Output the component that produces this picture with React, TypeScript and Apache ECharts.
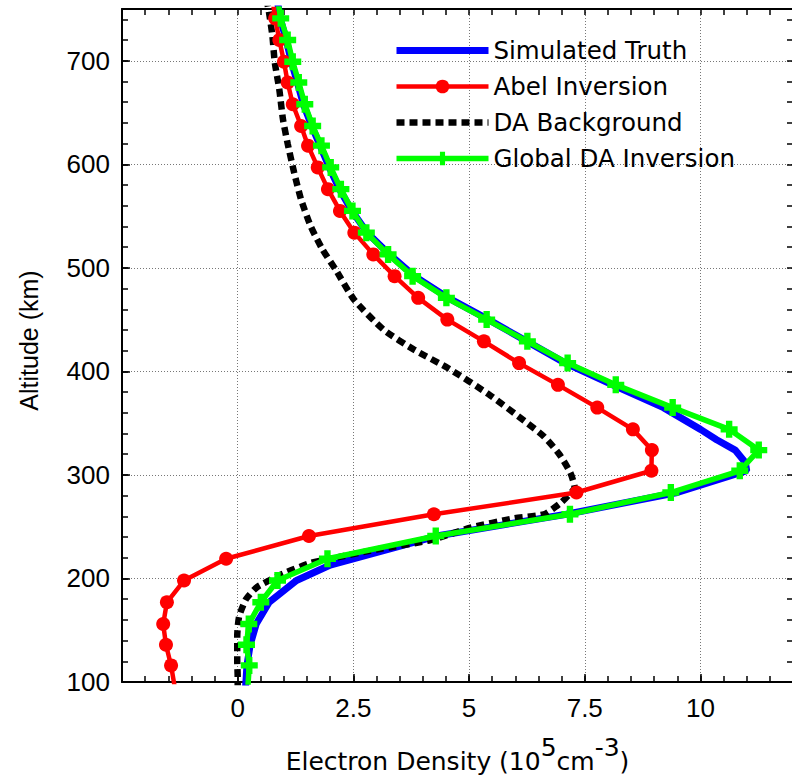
import React, { useEffect, useRef } from 'react';
import * as echarts from 'echarts';

// Altitudes (km) of the marked profile points
const markerAltitudes = [116, 136, 156, 177, 198, 219, 241, 262, 283, 304, 324, 344, 365, 387, 408, 429, 450, 471, 492, 513, 534, 555, 576, 597, 618, 637, 658, 679, 699, 720, 741];
// Abel inversion (10^5 cm^-3)
const abelDensity = [-1.44, -1.55, -1.61, -1.53, -1.16, -0.25, 1.54, 4.24, 7.32, 8.94, 8.95, 8.54, 7.77, 6.92, 6.08, 5.32, 4.53, 3.90, 3.39, 2.93, 2.52, 2.21, 1.95, 1.73, 1.52, 1.37, 1.19, 1.08, 1.0, 0.9, 0.81];
// continuation of the Abel profile beyond the frame [density, altitude]
const abelEdge = [[-1.36, 95], [0.75, 760]];
// Global DA inversion
const globalDensity = [0.25, 0.19, 0.24, 0.50, 0.86, 1.94, 4.28, 7.18, 9.36, 10.85, 11.26, 10.62, 9.40, 8.17, 7.13, 6.26, 5.38, 4.51, 3.78, 3.25, 2.78, 2.48, 2.23, 2.01, 1.81, 1.62, 1.45, 1.32, 1.19, 1.08, 0.93];
const globalEdge = [[0.22, 95], [0.86, 760]];
// Simulated truth
const truthAltitudes = [95, 116, 136, 156, 177, 198, 213, 241, 262, 283, 304, 312, 324, 334, 344, 365, 387, 408, 429, 450, 471, 492, 513, 534, 555, 576, 597, 618, 637, 658, 679, 699, 720, 741, 760];
const truthDensity = [0.17, 0.2, 0.27, 0.4, 0.68, 1.27, 2.0, 4.3, 7.1, 9.5, 11.0, 10.97, 10.75, 10.35, 10.0, 9.2, 8.1, 7.08, 6.25, 5.42, 4.55, 3.82, 3.28, 2.8, 2.47, 2.2, 1.98, 1.78, 1.6, 1.42, 1.29, 1.16, 1.05, 0.92, 0.85];
// DA background
const backgroundAltitudes = [760, 746, 724, 699, 672, 643, 620, 592, 566, 540, 518, 498, 469, 440, 421, 403, 378, 352, 337, 320, 302, 288, 279, 273, 262, 258, 249, 237, 228, 219, 215, 205, 192, 180, 163, 144, 121, 105, 95];
const backgroundDensity = [0.62, 0.68, 0.75, 0.80, 0.90, 0.98, 1.08, 1.22, 1.37, 1.58, 1.83, 2.12, 2.52, 3.16, 3.81, 4.55, 5.42, 6.20, 6.62, 6.95, 7.19, 7.28, 7.12, 6.98, 6.62, 5.97, 5.03, 4.17, 3.0, 2.0, 1.58, 1.00, 0.43, 0.18, 0.03, -0.01, -0.01, 0.0, 0.0];

const xTickLabels = [0, 2.5, 5, 7.5, 10];
const yTickLabels = [100, 200, 300, 400, 500, 600, 700];

const seriesNames = ['Simulated Truth', 'Abel Inversion', 'DA Background', 'Global DA Inversion'];

const PLUS = 'path://M5,0H11V5H16V11H11V16H5V11H0V5H5Z';
const TICK_FONT = 'Liberation Sans';
const TEXT_FONT = 'DejaVu Sans';

const TRUTH_LINE = { color: '#0000ff', width: 7 };
const ABEL_LINE = { color: '#ff0000', width: 4.5 };
const BG_LINE = { color: '#000000', width: 6.5, type: [8, 5] };
const GLOBAL_LINE = { color: '#00ff00', width: 5.5 };

export default function App() {
  const ref = useRef<HTMLDivElement>(null);
  useEffect(() => {
    if (!ref.current) return;
    const chart = echarts.init(ref.current, null, { renderer: 'svg' });

    const frameLine = { show: true, onZero: false, lineStyle: { color: '#000', width: 2 } };
    const noLine = { show: false, onZero: false };
    const minorTick = { show: true, inside: true, length: 6, lineStyle: { color: '#000', width: 1.5 } };
    const majorTick = { show: true, inside: true, length: 8, lineStyle: { color: '#000', width: 1.5 } };
    const grid = { show: true, lineStyle: { color: '#777', width: 1, type: [1, 2] } };

    const edgePoint = (p: number[]) => ({ value: p, symbol: 'none' });

    const abelData = [
      edgePoint(abelEdge[0]),
      ...markerAltitudes.map((a, i) => [abelDensity[i], a]),
      edgePoint(abelEdge[1]),
    ];
    const globalData = [
      edgePoint(globalEdge[0]),
      ...markerAltitudes.map((a, i) => [globalDensity[i], a]),
      edgePoint(globalEdge[1]),
    ];
    const truthData = truthAltitudes.map((a, i) => [truthDensity[i], a]);
    const bgData = backgroundAltitudes.map((a, i) => [backgroundDensity[i], a]);

    chart.setOption({
      animation: false,
      backgroundColor: '#fff',
      grid: { left: 122, right: -1, top: 9, bottom: 95, outerBoundsMode: 'none', containLabel: false },
      legend: {
        orient: 'vertical',
        left: 388,
        top: 33,
        itemWidth: 92,
        itemHeight: 17,
        itemGap: 11,
        textStyle: { fontSize: 24.5, fontFamily: TEXT_FONT, color: '#000' },
        data: [
          { name: seriesNames[0], itemStyle: { opacity: 0 }, lineStyle: TRUTH_LINE },
          { name: seriesNames[1], lineStyle: ABEL_LINE },
          { name: seriesNames[2], itemStyle: { opacity: 0 }, lineStyle: BG_LINE },
          { name: seriesNames[3], lineStyle: GLOBAL_LINE },
        ],
      },
      xAxis: [
        {
          type: 'value', min: -2.5, max: 12, interval: 0.5, position: 'bottom',
          axisLine: frameLine, axisTick: minorTick, axisLabel: { show: false }, splitLine: { show: false },
        },
        {
          type: 'value', min: -2.5, max: 12, interval: 0.5, position: 'top',
          axisLine: frameLine, axisTick: minorTick, axisLabel: { show: false }, splitLine: { show: false },
        },
        {
          type: 'value', min: -2.5, max: 12, interval: 2.5, position: 'bottom',
          axisLine: noLine,
          axisTick: majorTick,
          splitLine: grid,
          axisLabel: {
            margin: 13, fontSize: 26, fontFamily: TICK_FONT, color: '#000',
            formatter: (v: number) => (xTickLabels.some((t) => Math.abs(t - v) < 1e-6) ? String(v) : ''),
          },
          name: '{a|Electron Density (10}{s|5}{a|cm}{s|-3}{a|)}',
          nameLocation: 'middle',
          nameGap: 53,
          nameTextStyle: {
            rich: {
              a: { fontSize: 25, fontFamily: TEXT_FONT, color: '#000', padding: [14, 0, 0, 0] },
              s: { fontSize: 25, fontFamily: TEXT_FONT, color: '#000', padding: [0, 0, 14, 0] },
            },
          },
        },
      ],
      yAxis: [
        {
          type: 'value', min: 100, max: 750, interval: 20, position: 'left',
          axisLine: frameLine, axisTick: minorTick, axisLabel: { show: false }, splitLine: { show: false },
        },
        {
          type: 'value', min: 100, max: 750, interval: 20, position: 'right',
          axisLine: frameLine, axisTick: minorTick, axisLabel: { show: false }, splitLine: { show: false },
        },
        {
          type: 'value', min: 100, max: 750, interval: 100, position: 'left',
          axisLine: noLine,
          axisTick: majorTick,
          splitLine: grid,
          axisLabel: {
            margin: 12, fontSize: 26, fontFamily: TICK_FONT, color: '#000',
            formatter: (v: number) => (yTickLabels.includes(v) ? String(v) : ''),
          },
          name: 'Altitude (km)',
          nameLocation: 'middle',
          nameGap: 81,
          nameTextStyle: { fontSize: 25, fontFamily: TICK_FONT, color: '#000', padding: [0, 0, 0, 10] },
        },
      ],
      series: [
        {
          name: seriesNames[0], type: 'line', data: truthData, symbol: 'none', z: 2,
          lineStyle: TRUTH_LINE, itemStyle: { color: TRUTH_LINE.color },
        },
        {
          name: seriesNames[1], type: 'line', data: abelData, symbol: 'circle', symbolSize: 14, z: 4,
          lineStyle: ABEL_LINE, itemStyle: { color: ABEL_LINE.color },
        },
        {
          name: seriesNames[2], type: 'line', data: bgData, symbol: 'none', smooth: 0.2, z: 3,
          lineStyle: BG_LINE, itemStyle: { color: BG_LINE.color },
        },
        {
          name: seriesNames[3], type: 'line', data: globalData, symbol: PLUS, symbolSize: 17, z: 5,
          lineStyle: GLOBAL_LINE, itemStyle: { color: GLOBAL_LINE.color },
        },
      ],
    });
    return () => chart.dispose();
  }, []);

  return <div ref={ref} style={{ position: 'absolute', left: 0, top: 0, width: 792, height: 777 }} />;
}
